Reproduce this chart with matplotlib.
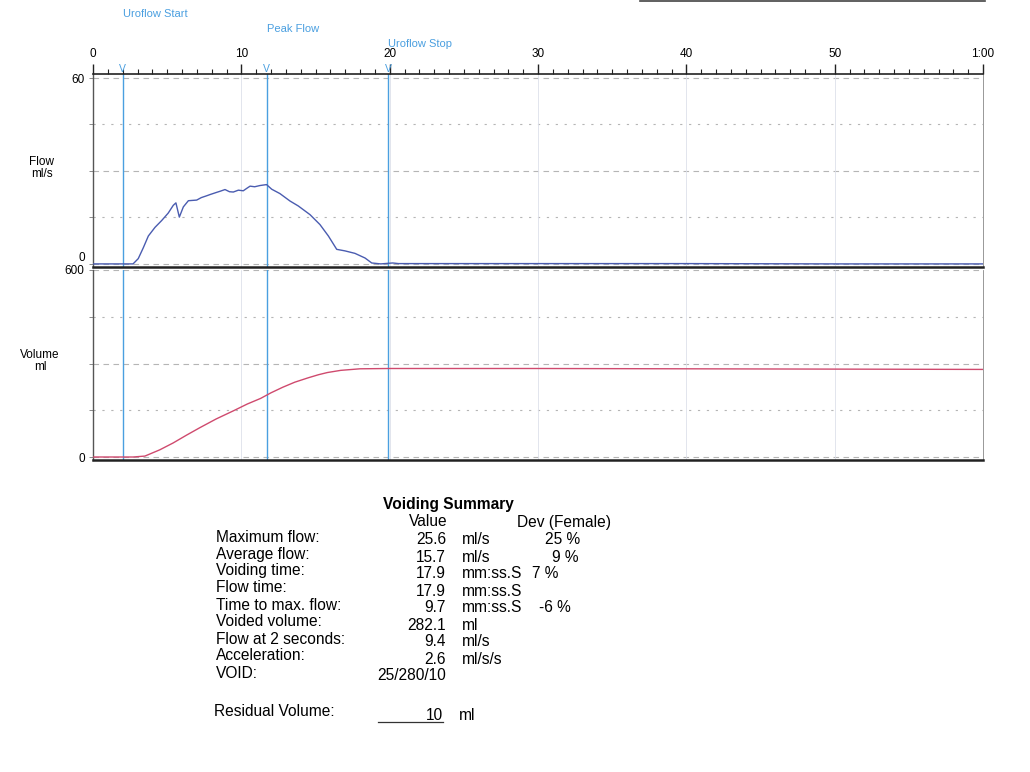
import matplotlib
matplotlib.use("Agg")
import matplotlib.pyplot as plt
import matplotlib.transforms as mtransforms
from matplotlib.lines import Line2D

plt.rcParams['font.family'] = ['Liberation Sans', 'DejaVu Sans']

# flow trace (s, ml/s)
flow_t = [0, 2.7, 3.05, 3.39, 3.73, 4.18, 4.63, 5.07, 5.41, 5.59, 5.82, 6.09,
          6.43, 6.99, 7.3, 7.67, 7.9, 8.34, 8.6, 8.9, 9.2, 9.46, 9.8, 10.13,
          10.4, 10.59, 10.9, 11.26, 11.7, 12.05, 12.6, 13.28, 13.84, 14.63,
          15.3, 15.87, 16.43, 16.99, 17.66, 18.34, 18.79, 19.4, 20.2, 20.6,
          30, 40, 50, 60]
flow_v = [0, 0, 1.7, 5.2, 9.0, 11.8, 14.0, 16.4, 18.9, 19.7, 15.1, 18.4,
          20.4, 20.6, 21.4, 22.0, 22.4, 23.1, 23.5, 24.0, 23.3, 23.2, 23.8, 23.6,
          24.5, 25.1, 24.9, 25.3, 25.6, 24.1, 22.7, 20.3, 18.7, 15.9,
          12.7, 9.0, 4.7, 4.2, 3.4, 1.9, 0.3, 0.0, 0.3, 0.1,
          0.1, 0.1, 0.0, 0.0]

# voided volume trace (s, ml)
vol_t = [0, 2.7, 3.5, 4.5, 5.4, 6.3, 7.2, 8.3, 9.5, 10.4, 11.3, 12.0, 12.8,
         13.6, 14.5, 15.2, 15.8, 16.7, 18.0, 20.0, 30, 40, 50, 60]
vol_v = [0, 0, 3, 23, 45, 70, 94, 122, 149, 170, 188, 206, 224,
         240, 254, 264, 271, 278, 283, 284, 284, 283, 282, 281]

# event markers
event_names = ['Uroflow Start', 'Peak Flow', 'Uroflow Stop']
event_t = [2.0, 11.7, 19.9]
event_label_y = [14, 29, 44]  # px from top

# summary table
sum_labels = ['Maximum flow:', 'Average flow:', 'Voiding time:', 'Flow time:',
              'Time to max. flow:', 'Voided volume:', 'Flow at 2 seconds:',
              'Acceleration:', 'VOID:']
sum_values = ['25.6', '15.7', '17.9', '17.9', '9.7', '282.1', '9.4', '2.6',
              '25/280/10']
sum_units = ['ml/s', 'ml/s', 'mm:ss.S', 'mm:ss.S', 'mm:ss.S', 'ml', 'ml/s',
             'ml/s/s', '']
sum_dev = ['25 %', '9 %', '7 %', '', '-6 %', '', '', '', '']
residual = '10'

W, H = 1030, 772
fig = plt.figure(figsize=(W / 100, H / 100), dpi=100)

def fx(px):
    return px / W

def fy(py):
    return 1 - py / H

blue_ev = '#4a9fe0'
blue_flow = '#4a5cb0'
red_vol = '#cf4a6e'
grid_c = '#b5b5b5'

left, right = fx(93), fx(983)
ax_f = fig.add_axes([left, fy(267), right - left, fy(74) - fy(267)])
ax_v = fig.add_axes([left, fy(460), right - left, fy(270) - fy(460)])

ax_f.set_xlim(0, 60)
ax_f.set_ylim(-1.0, 61.3)
ax_v.set_xlim(0, 60)
ax_v.set_ylim(-9.6, 600)

for ax, levels in [(ax_f, [0, 15, 30, 45, 60]), (ax_v, [0, 150, 300, 450, 600])]:
    for i, lv in enumerate(levels):
        dash = (5, 4) if i % 2 == 0 else (2, 6)
        ax.axhline(lv, color=grid_c, lw=0.8, dashes=dash, zorder=1)
    for xv in [10, 20, 30, 40, 50]:
        ax.axvline(xv, color='#dde0ea', lw=0.6, zorder=1)
    for t in event_t:
        ax.axvline(t, color=blue_ev, lw=1.0, zorder=2)
    ax.spines['left'].set_color('#555555')
    ax.spines['left'].set_linewidth(1.0)
    ax.spines['right'].set_color('#888888')
    ax.spines['right'].set_linewidth(0.6)
    ax.spines['bottom'].set_color('#222222')
    ax.spines['bottom'].set_linewidth(1.8)
    ax.tick_params(axis='y', direction='out', length=3, width=0.6,
                   color='#777777', labelsize=8.5, pad=3)

ax_f.plot(flow_t, flow_v, color=blue_flow, lw=1.0, zorder=3)
ax_v.plot(vol_t, vol_v, color=red_vol, lw=1.0, zorder=3)

# flow axis: ruler on top
ax_f.set_yticks([0, 15, 30, 45, 60])
ax_f.set_yticklabels(['0', '', '', '', '60'])
ax_f.get_yticklabels()[0].set_va('bottom')
ax_f.spines['top'].set_color('#222222')
ax_f.spines['top'].set_linewidth(1.2)
ax_f.xaxis.tick_top()
ax_f.set_xticks(range(0, 61, 10))
ax_f.set_xticklabels(['0', '10', '20', '30', '40', '50', '1:00'])
ax_f.set_xticks(range(0, 61), minor=True)
ax_f.tick_params(axis='x', which='major', direction='out', length=7, width=1.0,
                 color='#222222', labelsize=8.5, pad=3)
ax_f.tick_params(axis='x', which='minor', direction='out', length=3.5,
                 width=0.8, color='#222222')

ax_v.set_yticks([0, 150, 300, 450, 600])
ax_v.set_yticklabels(['0', '', '', '', '600'])
ax_v.set_xticks([])
ax_v.spines['top'].set_visible(False)

# event markers on the ruler and their names
trans_lbl = mtransforms.blended_transform_factory(ax_f.transData, fig.transFigure)
for name, t, py in zip(event_names, event_t, event_label_y):
    ax_f.text(t, 1.0, 'V', transform=ax_f.get_xaxis_transform(), ha='center',
              va='bottom', color=blue_ev, fontsize=7.5, clip_on=False)
    ax_f.text(t, fy(py), name, transform=trans_lbl, ha='left', va='center',
              color=blue_ev, fontsize=8)

fig.text(fx(42), fy(168), 'Flow\nml/s', ha='center', va='center',
         fontsize=8.5, linespacing=1.0)
fig.text(fx(40), fy(361), 'Volume\nml', ha='center', va='center',
         fontsize=8.5, linespacing=1.0)

# scan edge line at top right
fig.add_artist(Line2D([fx(640), fx(985)], [fy(1), fy(1)], color='#444444',
                      lw=1.2, transform=fig.transFigure))

# summary block
fs = 11.2
fig.text(fx(448), fy(505), 'Voiding Summary', ha='center', va='center',
         fontsize=fs, fontweight='bold')
fig.text(fx(428), fy(521), 'Value', ha='center', va='center', fontsize=fs)
fig.text(fx(517), fy(523), 'Dev (Female)', ha='left', va='center', fontsize=fs)
dev_x = [563, 565, 545, 0, 555, 0, 0, 0, 0]
for i in range(len(sum_labels)):
    ly = 537 + i * 17.0
    vy = ly + 3
    fig.text(fx(216), fy(ly), sum_labels[i], ha='left', va='center', fontsize=fs)
    fig.text(fx(446), fy(vy), sum_values[i], ha='right', va='center', fontsize=fs)
    if sum_units[i]:
        fig.text(fx(462), fy(vy), sum_units[i], ha='left', va='center', fontsize=fs)
    if sum_dev[i]:
        fig.text(fx(dev_x[i]), fy(vy), sum_dev[i], ha='center', va='center',
                 fontsize=fs)

fig.text(fx(214), fy(712), 'Residual Volume:', ha='left', va='center', fontsize=fs)
fig.text(fx(443), fy(715), residual, ha='right', va='center', fontsize=fs)
fig.text(fx(459), fy(715), 'ml', ha='left', va='center', fontsize=fs)
fig.add_artist(Line2D([fx(378), fx(443)], [fy(722), fy(722)], color='#333333',
                      lw=0.9, transform=fig.transFigure))

fig.savefig('out.png', dpi=100)
